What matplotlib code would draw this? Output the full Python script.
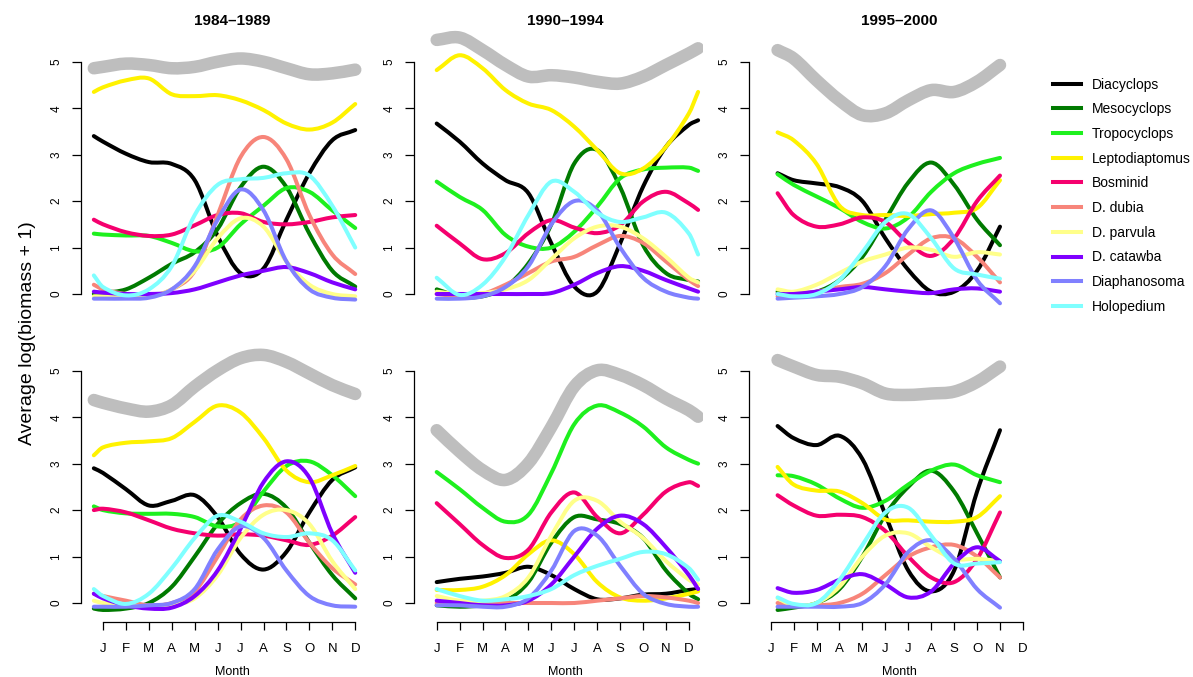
import numpy as np
import matplotlib
matplotlib.use("Agg")
import matplotlib.pyplot as plt
from matplotlib.path import Path
from matplotlib.patches import PathPatch
from matplotlib.lines import Line2D

plt.rcParams['font.family'] = ['Liberation Sans', 'DejaVu Sans']

# --- data -------------------------------------------------------------------
species = ["Diacyclops", "Mesocyclops", "Tropocyclops", "Leptodiaptomus", "Bosminid",
           "D. dubia", "D. parvula", "D. catawba", "Diaphanosoma", "Holopedium"]
colors = ["#000000", "#007A00", "#1EF01E", "#FFF200", "#F5006E",
          "#F7857A", "#FFFF8A", "#7F00FF", "#8080FF", "#7FFFFF"]
total_color = "#BEBEBE"

periods = ["1984\u20131989", "1990\u20131994", "1995\u20132000"]
month_labels = ["J", "F", "M", "A", "M", "J", "J", "A", "S", "O", "N", "D"]

# month positions (J = 1) at which values were read, one list per period
x_8489 = [0.6, 1, 2, 3, 4, 5, 6, 7, 8, 9, 10, 11, 12]
x_9094 = [1, 2, 3, 4, 5, 6, 7, 8, 9, 10, 11, 12, 12.4]
x_9500 = [1.3, 2, 3, 4, 5, 6, 7, 8, 9, 10, 11]

# top row
top_8489_total = [4.86, 4.89, 4.96, 4.93, 4.86, 4.89, 5.0, 5.07, 5.0, 4.86, 4.73, 4.75, 4.83]
top_8489 = {
    "Diacyclops": [3.40, 3.28, 3.02, 2.84, 2.80, 2.45, 1.25, 0.45, 0.55, 1.6, 2.6, 3.31, 3.53],
    "Mesocyclops": [0.0, 0.02, 0.1, 0.35, 0.65, 0.9, 1.4, 2.3, 2.74, 2.3, 1.3, 0.5, 0.16],
    "Tropocyclops": [1.3, 1.28, 1.26, 1.25, 1.1, 0.92, 1.0, 1.5, 1.9, 2.28, 2.2, 1.8, 1.42],
    "Leptodiaptomus": [4.35, 4.45, 4.6, 4.64, 4.3, 4.26, 4.28, 4.17, 3.96, 3.67, 3.54, 3.69, 4.09],
    "Bosminid": [1.6, 1.5, 1.33, 1.25, 1.28, 1.48, 1.7, 1.74, 1.55, 1.5, 1.55, 1.65, 1.7],
    "D. dubia": [0.2, 0.1, 0.0, -0.05, 0.1, 0.5, 1.7, 2.95, 3.38, 2.9, 1.7, 0.85, 0.43],
    "D. parvula": [-0.05, -0.05, -0.08, -0.05, 0.1, 0.5, 1.2, 1.63, 1.45, 0.7, 0.2, 0.0, -0.05],
    "D. catawba": [0.05, 0.03, 0.0, 0.0, 0.02, 0.1, 0.25, 0.4, 0.5, 0.58, 0.45, 0.25, 0.1],
    "Diaphanosoma": [-0.1, -0.1, -0.1, -0.08, 0.1, 0.6, 1.6, 2.25, 1.8, 0.7, 0.1, -0.08, -0.12],
    "Holopedium": [0.4, 0.15, -0.03, 0.1, 0.6, 1.7, 2.35, 2.47, 2.5, 2.6, 2.55, 1.9, 1.0],
}

top_9094_total = [5.47, 5.52, 5.25, 4.93, 4.68, 4.71, 4.66, 4.57, 4.53, 4.68, 4.93, 5.18, 5.29]
top_9094 = {
    "Diacyclops": [3.67, 3.28, 2.81, 2.45, 2.17, 1.09, 0.16, 0.05, 1.09, 2.31, 3.17, 3.64, 3.74],
    "Mesocyclops": [0.1, -0.05, -0.05, 0.15, 0.66, 1.5, 2.81, 3.1, 2.3, 1.05, 0.45, 0.3, 0.27],
    "Tropocyclops": [2.42, 2.09, 1.81, 1.27, 1.02, 1.0, 1.34, 1.88, 2.49, 2.68, 2.72, 2.72, 2.65],
    "Leptodiaptomus": [4.82, 5.14, 4.86, 4.39, 4.10, 3.96, 3.6, 3.1, 2.6, 2.7, 3.17, 3.89, 4.35],
    "Bosminid": [1.47, 1.09, 0.75, 0.88, 1.31, 1.59, 1.43, 1.31, 1.48, 1.99, 2.2, 1.95, 1.81],
    "D. dubia": [0.0, -0.05, 0.0, 0.2, 0.45, 0.7, 0.8, 1.05, 1.25, 1.1, 0.7, 0.3, 0.17],
    "D. parvula": [0.05, 0.0, 0.02, 0.1, 0.3, 0.75, 1.2, 1.45, 1.45, 1.2, 0.8, 0.35, 0.25],
    "D. catawba": [0.0, 0.0, 0.0, 0.0, 0.0, 0.02, 0.2, 0.45, 0.6, 0.5, 0.3, 0.12, 0.05],
    "Diaphanosoma": [-0.1, -0.1, -0.05, 0.15, 0.6, 1.5, 2.0, 1.8, 1.0, 0.35, 0.05, -0.08, -0.1],
    "Holopedium": [0.35, -0.02, 0.2, 0.8, 1.7, 2.42, 2.2, 1.75, 1.55, 1.65, 1.75, 1.3, 0.85],
}

top_9500_total = [5.25, 5.07, 4.6, 4.17, 3.85, 3.89, 4.17, 4.39, 4.35, 4.57, 4.93]
top_9500 = {
    "Diacyclops": [2.6, 2.45, 2.38, 2.3, 2.0, 1.2, 0.52, 0.05, 0.05, 0.5, 1.45],
    "Mesocyclops": [0.05, 0.02, 0.05, 0.3, 0.8, 1.6, 2.4, 2.83, 2.35, 1.6, 1.05],
    "Tropocyclops": [2.58, 2.35, 2.1, 1.85, 1.55, 1.41, 1.65, 2.2, 2.6, 2.8, 2.93],
    "Leptodiaptomus": [3.48, 3.31, 2.8, 1.9, 1.7, 1.7, 1.68, 1.72, 1.75, 1.85, 2.45],
    "Bosminid": [2.17, 1.7, 1.45, 1.5, 1.65, 1.55, 1.1, 0.82, 1.2, 2.0, 2.55],
    "D. dubia": [-0.05, 0.0, 0.05, 0.15, 0.22, 0.45, 0.85, 1.2, 1.2, 0.8, 0.25],
    "D. parvula": [0.1, 0.05, 0.2, 0.45, 0.7, 0.85, 1.0, 0.95, 0.8, 0.9, 0.85],
    "D. catawba": [0.0, 0.0, 0.05, 0.1, 0.15, 0.1, 0.05, 0.02, 0.1, 0.12, 0.05],
    "Diaphanosoma": [-0.1, -0.08, -0.05, 0.0, 0.15, 0.6, 1.4, 1.8, 1.2, 0.3, -0.2],
    "Holopedium": [0.0, -0.05, 0.0, 0.3, 0.9, 1.55, 1.72, 1.2, 0.55, 0.42, 0.33],
}

# bottom row
bot_8489_total = [4.37, 4.31, 4.19, 4.12, 4.26, 4.66, 5.01, 5.27, 5.34, 5.19, 4.94, 4.69, 4.5]
bot_8489 = {
    "Diacyclops": [2.9, 2.8, 2.45, 2.1, 2.2, 2.32, 1.85, 1.05, 0.72, 1.1, 1.95, 2.65, 2.92],
    "Mesocyclops": [-0.12, -0.15, -0.12, 0.0, 0.35, 1.0, 1.7, 2.15, 2.35, 2.05, 1.3, 0.6, 0.1],
    "Tropocyclops": [2.08, 2.0, 1.93, 1.92, 1.92, 1.85, 1.65, 1.75, 2.4, 2.95, 3.05, 2.75, 2.3],
    "Leptodiaptomus": [3.18, 3.35, 3.45, 3.48, 3.55, 3.9, 4.25, 4.1, 3.55, 2.85, 2.6, 2.75, 2.95],
    "Bosminid": [2.0, 2.03, 1.95, 1.78, 1.6, 1.5, 1.45, 1.48, 1.45, 1.35, 1.25, 1.45, 1.85],
    "D. dubia": [0.2, 0.15, 0.05, -0.05, 0.0, 0.25, 1.0, 1.8, 2.1, 1.95, 1.3, 0.75, 0.4],
    "D. parvula": [0.05, 0.0, -0.05, -0.08, -0.05, 0.1, 0.6, 1.4, 1.9, 2.0, 1.7, 0.9, 0.3],
    "D. catawba": [0.2, 0.1, -0.05, -0.12, -0.1, 0.15, 0.7, 1.6, 2.6, 3.05, 2.7, 1.5, 0.65],
    "Diaphanosoma": [-0.08, -0.08, -0.08, -0.05, 0.0, 0.3, 1.15, 1.65, 1.4, 0.7, 0.15, -0.05, -0.08],
    "Holopedium": [0.3, 0.15, -0.02, 0.2, 0.75, 1.4, 1.88, 1.75, 1.5, 1.42, 1.5, 1.35, 0.7],
}

bot_9094_total = [3.72, 3.26, 2.86, 2.65, 3.01, 3.79, 4.66, 5.01, 4.91, 4.69, 4.4, 4.15, 4.01]
bot_9094 = {
    "Diacyclops": [0.45, 0.52, 0.57, 0.65, 0.78, 0.6, 0.3, 0.08, 0.1, 0.18, 0.2, 0.28, 0.3],
    "Mesocyclops": [-0.05, -0.08, -0.05, 0.05, 0.45, 1.3, 1.85, 1.8, 1.7, 1.4, 0.7, 0.2, 0.08],
    "Tropocyclops": [2.82, 2.45, 2.05, 1.75, 1.9, 2.8, 3.85, 4.25, 4.1, 3.8, 3.35, 3.08, 3.0],
    "Leptodiaptomus": [0.28, 0.28, 0.35, 0.6, 1.05, 1.35, 1.05, 0.45, 0.12, 0.05, 0.1, 0.2, 0.25],
    "Bosminid": [2.15, 1.7, 1.25, 0.97, 1.15, 1.95, 2.38, 1.85, 1.5, 1.9, 2.4, 2.6, 2.52],
    "D. dubia": [0.0, 0.0, 0.0, 0.0, 0.0, 0.0, 0.0, 0.05, 0.1, 0.15, 0.12, 0.05, 0.0],
    "D. parvula": [0.15, 0.05, 0.05, 0.15, 0.55, 1.45, 2.2, 2.2, 1.75, 1.4, 0.9, 0.5, 0.4],
    "D. catawba": [0.05, 0.0, -0.05, -0.05, 0.05, 0.4, 1.0, 1.6, 1.88, 1.7, 1.2, 0.6, 0.3],
    "Diaphanosoma": [-0.05, -0.05, -0.08, -0.08, 0.1, 0.7, 1.55, 1.45, 0.8, 0.2, -0.02, -0.08, -0.08],
    "Holopedium": [0.3, 0.15, 0.05, 0.08, 0.15, 0.3, 0.6, 0.8, 0.95, 1.1, 1.05, 0.75, 0.5],
}

bot_9500_total = [5.23, 5.09, 4.91, 4.87, 4.73, 4.51, 4.48, 4.51, 4.55, 4.76, 5.09]
bot_9500 = {
    "Diacyclops": [3.81, 3.55, 3.4, 3.6, 3.1, 1.9, 0.7, 0.25, 0.7, 2.4, 3.72],
    "Mesocyclops": [-0.15, -0.1, 0.0, 0.3, 1.0, 1.9, 2.5, 2.85, 2.4, 1.5, 0.55],
    "Tropocyclops": [2.75, 2.73, 2.55, 2.25, 2.05, 2.2, 2.55, 2.85, 2.98, 2.75, 2.6],
    "Leptodiaptomus": [2.93, 2.55, 2.42, 2.4, 2.15, 1.8, 1.78, 1.75, 1.75, 1.85, 2.3],
    "Bosminid": [2.32, 2.1, 1.88, 1.9, 1.85, 1.55, 1.0, 0.55, 0.45, 0.95, 1.95],
    "D. dubia": [0.0, -0.05, -0.05, 0.0, 0.2, 0.6, 1.0, 1.2, 1.25, 1.0, 0.55],
    "D. parvula": [0.1, -0.05, 0.0, 0.35, 1.0, 1.45, 1.5, 1.2, 0.95, 0.95, 0.9],
    "D. catawba": [0.32, 0.22, 0.28, 0.5, 0.62, 0.4, 0.12, 0.25, 0.85, 1.2, 0.9],
    "Diaphanosoma": [-0.08, -0.08, -0.08, -0.08, 0.0, 0.4, 1.1, 1.35, 0.95, 0.3, -0.1],
    "Holopedium": [0.12, -0.02, 0.0, 0.5, 1.25, 1.95, 2.05, 1.45, 0.85, 0.85, 0.88],
}

panels = [
    [(x_8489, top_8489_total, top_8489), (x_9094, top_9094_total, top_9094), (x_9500, top_9500_total, top_9500)],
    [(x_8489, bot_8489_total, bot_8489), (x_9094, bot_9094_total, bot_9094), (x_9500, bot_9500_total, bot_9500)],
]


def smooth_path(x, y):
    # smooth cubic curve through the read points (Hermite in Bezier form)
    x = np.asarray(x, float)
    y = np.asarray(y, float)
    n = len(x)
    d = np.empty(n)
    d[1:-1] = (y[2:] - y[:-2]) / (x[2:] - x[:-2])
    d[0] = (y[1] - y[0]) / (x[1] - x[0])
    d[-1] = (y[-1] - y[-2]) / (x[-1] - x[-2])
    verts = [(x[0], y[0])]
    codes = [Path.MOVETO]
    for i in range(n - 1):
        h = (x[i + 1] - x[i]) / 3.0
        verts += [(x[i] + h, y[i] + d[i] * h), (x[i + 1] - h, y[i + 1] - d[i + 1] * h), (x[i + 1], y[i + 1])]
        codes += [Path.CURVE4] * 3
    return Path(verts, codes)


def draw_curve(ax, x, y, color, lw):
    ax.add_patch(PathPatch(smooth_path(x, y), facecolor="none", edgecolor=color, lw=lw,
                           capstyle="round", joinstyle="round"))


# --- layout (pixels) --------------------------------------------------------
W, H = 1193, 677
fig = plt.figure(figsize=(W / 100, H / 100), dpi=100)

spine_px = [81, 414, 749]
jan_px = [103, 436.7, 770.7]
month_w = 22.93
zero_px = [294, 603]
unit_h = 46.45
y_lo, y_hi = -0.41, 5.75
x_hi = 12.6

for r in range(2):
    for c in range(3):
        x_lo = 1 + (spine_px[c] - jan_px[c]) / month_w
        left = spine_px[c]
        right = jan_px[c] + (x_hi - 1) * month_w
        top = zero_px[r] - y_hi * unit_h
        bottom = zero_px[r] - y_lo * unit_h
        ax = fig.add_axes([left / W, 1 - bottom / H, (right - left) / W, (bottom - top) / H])
        ax.patch.set_alpha(0)
        ax.set_xlim(x_lo, x_hi)
        ax.set_ylim(y_lo, y_hi)

        xs, tot, vals = panels[r][c]
        draw_curve(ax, xs, tot, total_color, 9)
        for name, col in zip(species, colors):
            draw_curve(ax, xs, vals[name], col, 2.9)

        for s in ["top", "right"]:
            ax.spines[s].set_visible(False)
        ax.spines["left"].set_bounds(0, 5)
        ax.spines["left"].set_linewidth(0.9)
        ax.set_yticks(range(6))
        ax.tick_params(axis="y", length=6.5, width=0.9, labelsize=8.5, pad=7, labelrotation=90)
        for lbl in ax.get_yticklabels():
            lbl.set_va("center")

        if r == 0:
            ax.spines["bottom"].set_visible(False)
            ax.set_xticks([])
        else:
            ax.spines["bottom"].set_bounds(1, 12)
            ax.spines["bottom"].set_linewidth(0.9)
            ax.set_xticks(range(1, 13))
            ax.set_xticklabels(month_labels)
            ax.tick_params(axis="x", length=6, width=0.9, labelsize=9.5, pad=9)

title_px = [232, 565, 899]
for c in range(3):
    fig.text(title_px[c] / W, 1 - 21 / H, periods[c], ha="center", va="center",
             fontsize=11, fontweight="bold")
    fig.text(title_px[c] / W, 1 - 672 / H, "Month", ha="center", va="center", fontsize=9)

fig.text(28 / W, 1 - 333 / H, "Average log(biomass + 1)", rotation=90,
         ha="center", va="center", fontsize=14)

handles = [Line2D([], [], color=col, lw=2.9) for col in colors]
fig.legend(handles, species, loc="upper left", bbox_to_anchor=(1053 / W, 1 - 77.5 / H),
           frameon=False, fontsize=10, borderpad=0, borderaxespad=0,
           handlelength=2.0, handletextpad=0.8, labelspacing=0.77)

fig.savefig("out.png", dpi=100)
